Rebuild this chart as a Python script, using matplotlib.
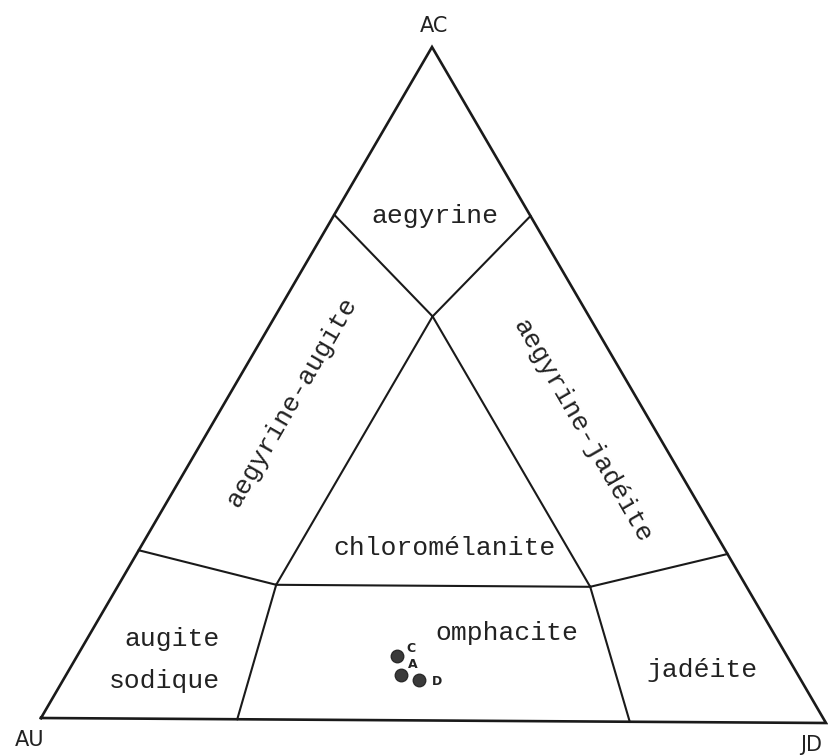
"""Pyroxene ternary diagram AC - AU - JD with field boundaries and samples."""
import numpy as np
import matplotlib.pyplot as plt

# corner positions of the (scanned, slightly skewed) triangle in figure pixels
CORNER_AU = (41, 718)
CORNER_JD = (826, 723)
CORNER_AC = (432, 47)

# field boundaries as compositions (AU, JD, AC) fractions
edge_pts = {
    "left_hi": (0.25, 0.0, 0.75),
    "right_hi": (0.0, 0.25, 0.75),
    "centre": (0.20, 0.20, 0.60),
    "left_lo": (0.75, 0.0, 0.25),
    "right_lo": (0.0, 0.75, 0.25),
    "junc_l": (0.60, 0.20, 0.20),
    "junc_r": (0.20, 0.60, 0.20),
    "base_l": (0.75, 0.25, 0.0),
    "base_r": (0.25, 0.75, 0.0),
}
segments = [
    ("left_hi", "centre"), ("centre", "right_hi"),
    ("centre", "junc_l"), ("centre", "junc_r"),
    ("left_lo", "junc_l"), ("junc_l", "junc_r"), ("junc_r", "right_lo"),
    ("junc_l", "base_l"), ("junc_r", "base_r"),
]

# field names, label anchor compositions (AU, JD, AC), rotation
field_names = ["aegyrine", "aegyrine-augite", "aegyrine-jadéite", "chloromélanite",
               "augite", "sodique", "omphacite", "jadéite"]
field_pos = [(0.127, 0.134, 0.739), (0.444, 0.085, 0.471), (0.094, 0.474, 0.432),
             (0.362, 0.392, 0.246), (0.779, 0.113, 0.108), (0.820, 0.134, 0.046),
             (0.346, 0.534, 0.120), (0.124, 0.809, 0.067)]
field_rot = [0, 60, -60, 0, 0, 0, 0, 0]

# samples (AU, JD, AC)
samples = ["C", "A", "D"]
sample_au = [0.499, 0.508, 0.488]
sample_jd = [0.406, 0.425, 0.452]
sample_ac = [0.095, 0.067, 0.060]


def to_xy(au, jd, ac):
    x = au * CORNER_AU[0] + jd * CORNER_JD[0] + ac * CORNER_AC[0]
    y = au * CORNER_AU[1] + jd * CORNER_JD[1] + ac * CORNER_AC[1]
    return x, y


fig = plt.figure(figsize=(8.29, 7.56), dpi=100)
ax = fig.add_axes([0, 0, 1, 1])
ax.set_xlim(0, 829)
ax.set_ylim(756, 0)
ax.axis("off")

# outer triangle
tri = [to_xy(1, 0, 0), to_xy(0, 1, 0), to_xy(0, 0, 1), to_xy(1, 0, 0)]
ax.plot([p[0] for p in tri], [p[1] for p in tri], color="#1a1a1a", lw=1.9,
        solid_joinstyle="miter")

for a, b in segments:
    pa, pb = to_xy(*edge_pts[a]), to_xy(*edge_pts[b])
    ax.plot([pa[0], pb[0]], [pa[1], pb[1]], color="#1a1a1a", lw=1.5)

mono = "Liberation Mono"
for name, pos, rot in zip(field_names, field_pos, field_rot):
    x, y = to_xy(*pos)
    if rot:
        ax.text(x, y, name, fontsize=19, family=mono, color="#222222",
                ha="center", va="center", rotation=rot, rotation_mode="anchor")
    else:
        ax.text(x, y, name, fontsize=19, family=mono, color="#222222",
                ha="center", va="baseline")

# samples
for s, au, jd, ac in zip(samples, sample_au, sample_jd, sample_ac):
    x, y = to_xy(au, jd, ac)
    ax.plot(x, y, "o", ms=9, color="#3a3a3a", mec="#2a2a2a")
label_off = {"C": (14, -8), "A": (12, -11), "D": (18, 1)}
for s, au, jd, ac in zip(samples, sample_au, sample_jd, sample_ac):
    x, y = to_xy(au, jd, ac)
    dx, dy = label_off[s]
    ax.text(x + dx, y + dy, s, fontsize=9, fontweight="bold", color="#222222",
            ha="center", va="center")

# corner labels
ax.text(CORNER_AC[0] + 2, CORNER_AC[1] - 21, "AC", fontsize=15, ha="center",
        va="center", color="#222222")
ax.text(CORNER_AU[0] - 11, CORNER_AU[1] + 22, "AU", fontsize=15, ha="center",
        va="center", color="#222222")
ax.text(CORNER_JD[0] - 15, CORNER_JD[1] + 22, "JD", fontsize=15, ha="center",
        va="center", color="#222222")

fig.savefig("out.png", dpi=100)
